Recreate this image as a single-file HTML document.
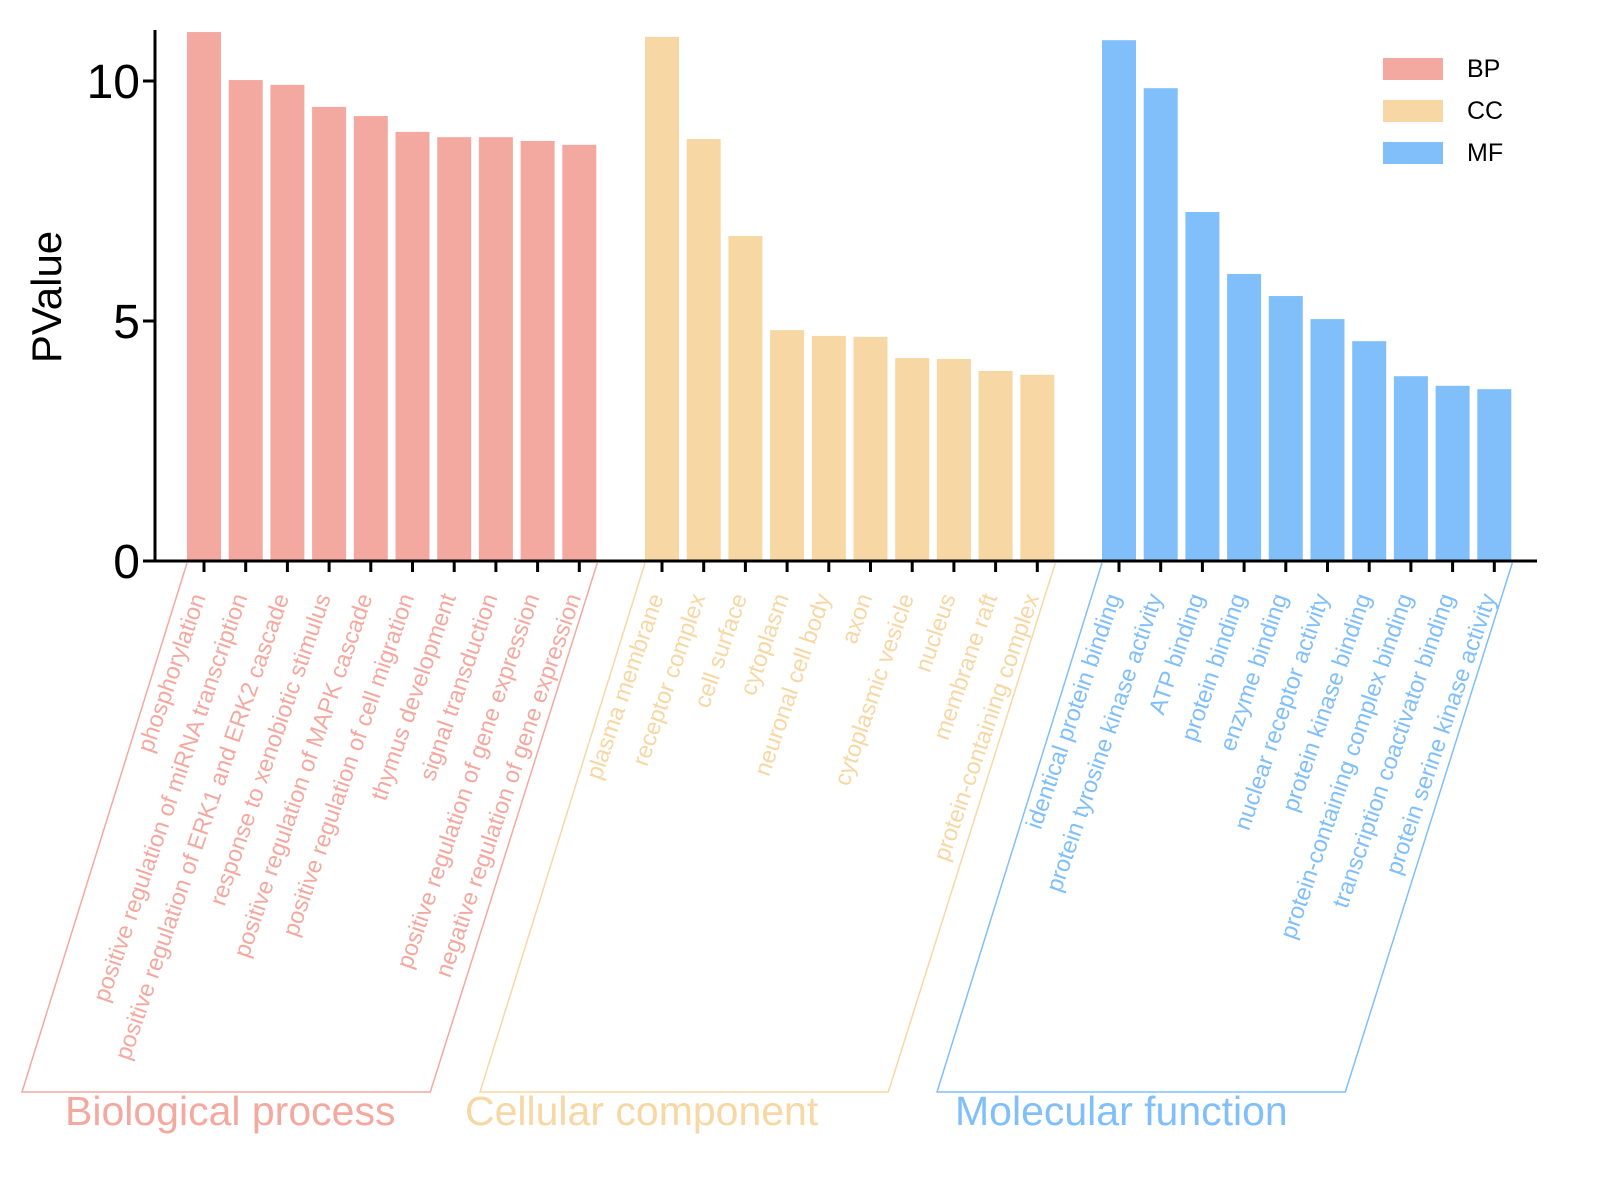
<!DOCTYPE html>
<html><head><meta charset="utf-8"><style>
body{margin:0;background:#fff;}
svg{display:block;font-family:"Liberation Sans",Arial,sans-serif;}
</style></head><body>
<svg id="chart" width="1600" height="1179" viewBox="0 0 1600 1179">
<g id="bars"></g>
<g id="axes"></g>
<g id="labels"></g>
<g id="legend"></g>
</svg>
<script>
const groups = ["BP","CC","MF"];
const groupTitles = ["Biological process","Cellular component","Molecular function"];
const colors = ["#F4A9A0","#F7D7A4","#80BFFA"];
const bpLabels = ["phosphorylation","positive regulation of miRNA transcription","positive regulation of ERK1 and ERK2 cascade","response to xenobiotic stimulus","positive regulation of MAPK cascade","positive regulation of cell migration","thymus development","signal transduction","positive regulation of gene expression","negative regulation of gene expression"];
const bpValues = [11.02,10.02,9.92,9.46,9.27,8.94,8.83,8.83,8.75,8.67];
const ccLabels = ["plasma membrane","receptor complex","cell surface","cytoplasm","neuronal cell body","axon","cytoplasmic vesicle","nucleus","membrane raft","protein-containing complex"];
const ccValues = [10.92,8.79,6.77,4.81,4.69,4.67,4.23,4.21,3.96,3.88];
const mfLabels = ["identical protein binding","protein tyrosine kinase activity","ATP binding","protein binding","enzyme binding","nuclear receptor activity","protein kinase binding","protein-containing complex binding","transcription coactivator binding","protein serine kinase activity"];
const mfValues = [10.85,9.85,7.27,5.98,5.52,5.04,4.58,3.85,3.65,3.58];
const yTicks = [0,5,10];

const NS="http://www.w3.org/2000/svg";
function mk(tag,attrs,parent){const e=document.createElementNS(NS,tag);for(const k in attrs)e.setAttribute(k,attrs[k]);parent.appendChild(e);return e;}
const y0=561, pxPerUnit=48;
const yScale=v=>y0-v*pxPerUnit;
const groupStarts=[187,645,1102], step=41.7, bw=34;
const titleX=[65,465,955];
const xScale=(g,i)=>groupStarts[g]+i*step;
const allLabels=[bpLabels,ccLabels,mfLabels], allValues=[bpValues,ccValues,mfValues];
const barsG=document.getElementById('bars'), axesG=document.getElementById('axes'), labG=document.getElementById('labels'), legG=document.getElementById('legend');

allValues.forEach((vals,g)=>{
  vals.forEach((v,i)=>{
    const x=xScale(g,i);
    const r=mk('rect',{x:x,y:yScale(v),width:bw,height:y0-yScale(v),fill:colors[g]},barsG);
    
    
    const cx=x+bw/2;
    const t=mk('line',{x1:cx,y1:y0,x2:cx,y2:y0+11,stroke:'#000','stroke-width':3},axesG);
    
    
    const tx=mk('text',{x:0,y:0,'font-size':23.5,fill:colors[g],'text-anchor':'end',transform:`translate(${cx+2},${y0+36}) rotate(-71)`},labG);
    tx.textContent=allLabels[g][i];
    
    
  });
  const x0=groupStarts[g], x1=xScale(g,vals.length-1)+bw+1;
  const dx=165;
  const p=mk('polyline',{points:`${x0},${y0+2} ${x0-dx},1092 ${x1-dx-2},1092 ${x1},${y0+2}`,fill:'none',stroke:colors[g],'stroke-width':1.5},labG);
  
  
  const gt=mk('text',{x:titleX[g],y:1125,'font-size':41,fill:colors[g]},labG);
  gt.textContent=groupTitles[g];
  
  
});

const ya=mk('line',{x1:155,y1:30,x2:155,y2:y0+1.5,stroke:'#000','stroke-width':3},axesG);


const xa=mk('line',{x1:143,y1:y0,x2:1537,y2:y0,stroke:'#000','stroke-width':3},axesG);


yTicks.forEach(v=>{
  const l=mk('line',{x1:143,y1:yScale(v),x2:155,y2:yScale(v),stroke:'#000','stroke-width':3},axesG);
  
  
  const t=mk('text',{x:140,y:yScale(v)+17,'font-size':48,'text-anchor':'end',fill:'#000'},axesG);
  t.textContent=v;
  
  
});
const yt=mk('text',{x:0,y:0,'font-size':42,'text-anchor':'middle',transform:'translate(61,297) rotate(-90)',fill:'#000'},axesG);
yt.textContent='PValue';



groups.forEach((gname,g)=>{
  const y=58+g*42;
  const r=mk('rect',{x:1383,y:y,width:60,height:22,fill:colors[g]},legG);
  
  
  const t=mk('text',{x:1467,y:y+19,'font-size':25,fill:'#000'},legG);
  t.textContent=gname;
  
  
});
</script>
</body></html>
